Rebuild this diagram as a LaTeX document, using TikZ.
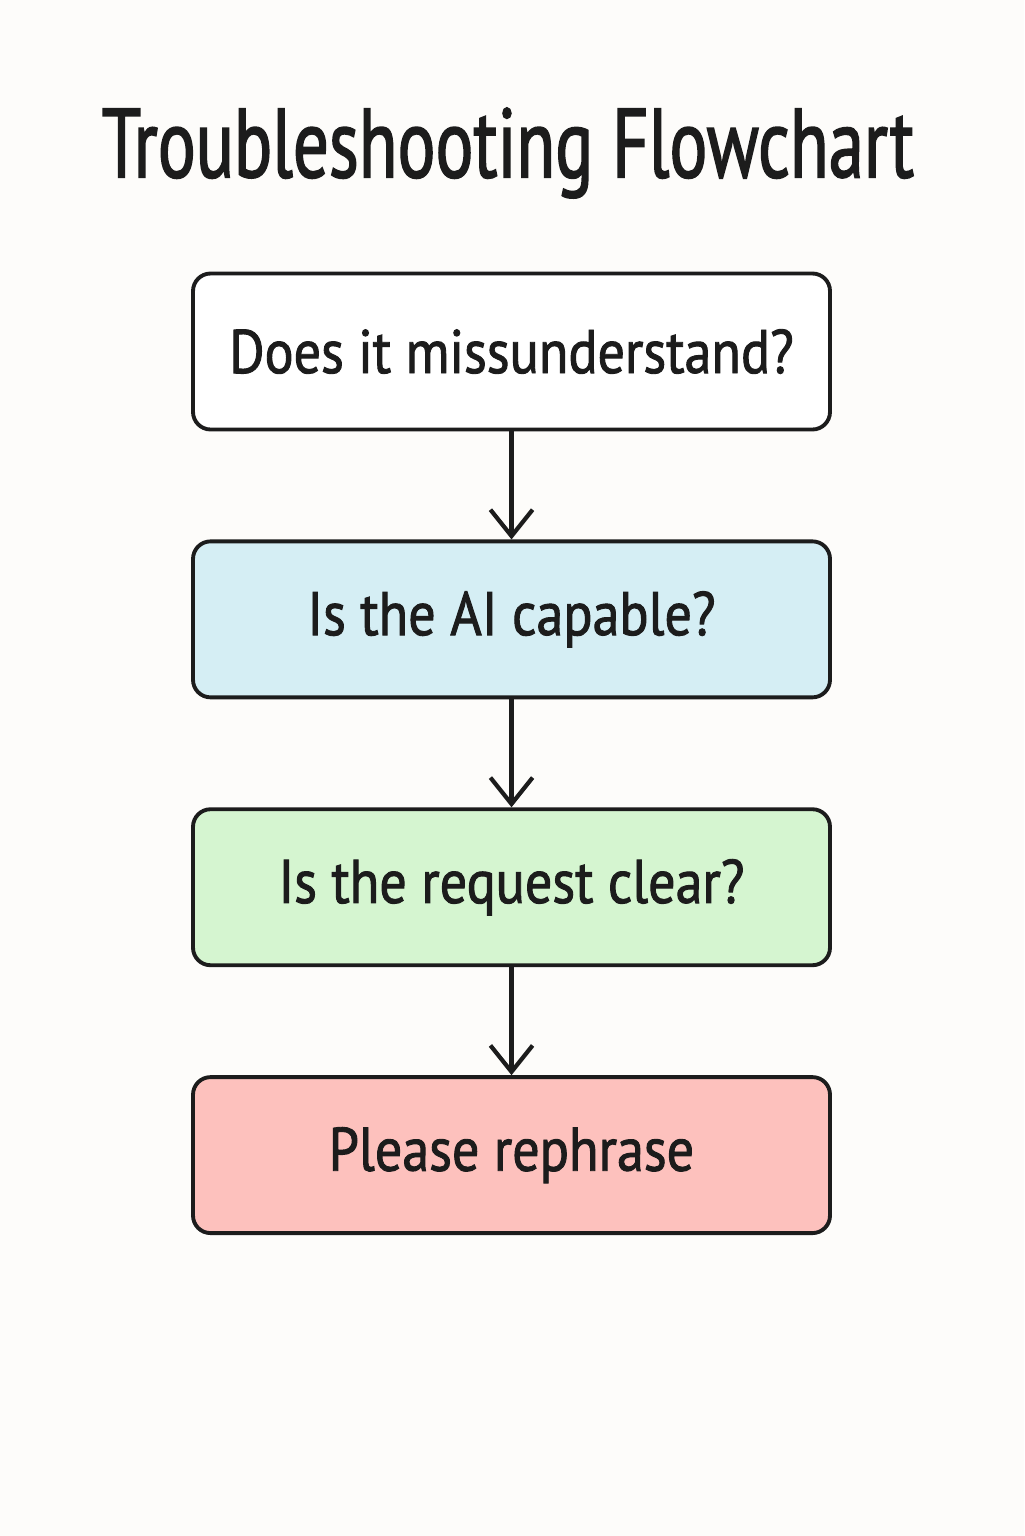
\documentclass[tikz,border=0pt]{standalone}
\usepackage{fontspec}
\setmainfont{PT Sans}
\newfontfamily\narrowsans[FakeStretch=0.72,FakeBold=1.5]{PT Sans}
\newfontfamily\boxsans[FakeStretch=0.88,FakeBold=1.5]{PT Sans}
\usetikzlibrary{arrows.meta,positioning}
\definecolor{bgpaper}{HTML}{FDFCFA}
\definecolor{ink}{HTML}{1C1C1C}
\definecolor{askblue}{HTML}{D5EEF4}
\definecolor{askgreen}{HTML}{D5F5D0}
\definecolor{askred}{HTML}{FDC1BD}
\tikzset{->, % directed edges
>={Straight Barb[length=7.5pt,width=12pt,line width=1.2pt]}, % open arrow heads
node distance=1.08cm, % gap between two boxes
question/.style={draw=ink, line width=1.1pt, rounded corners=5pt, minimum width=6.37cm, minimum height=1.56cm, text=ink, font=\boxsans\fontsize{17.5}{20}\selectfont}, % the boxes
}
\begin{document}
\begin{tikzpicture}
\fill[bgpaper] (0,0) rectangle (10.24,-15.36);
\useasboundingbox (0,0) rectangle (10.24,-15.36);
\node[text=ink, font=\narrowsans\fontsize{28}{32}\selectfont] (title) at (5.08,-1.53) {Troubleshooting Flowchart};
\node[question, fill=white] (0) at (5.115,-3.515) {Does it missunderstand?};
\node[question, fill=askblue, below=of 0] (1) {Is the AI capable?};
\node[question, fill=askgreen, below=of 1] (2) {Is the request clear?};
\node[question, fill=askred, below=of 2] (3) {Please rephrase};
\draw[draw=ink, line width=1.2pt] (0) edge (1)
(1) edge (2)
(2) edge (3);
\end{tikzpicture}
\end{document}
